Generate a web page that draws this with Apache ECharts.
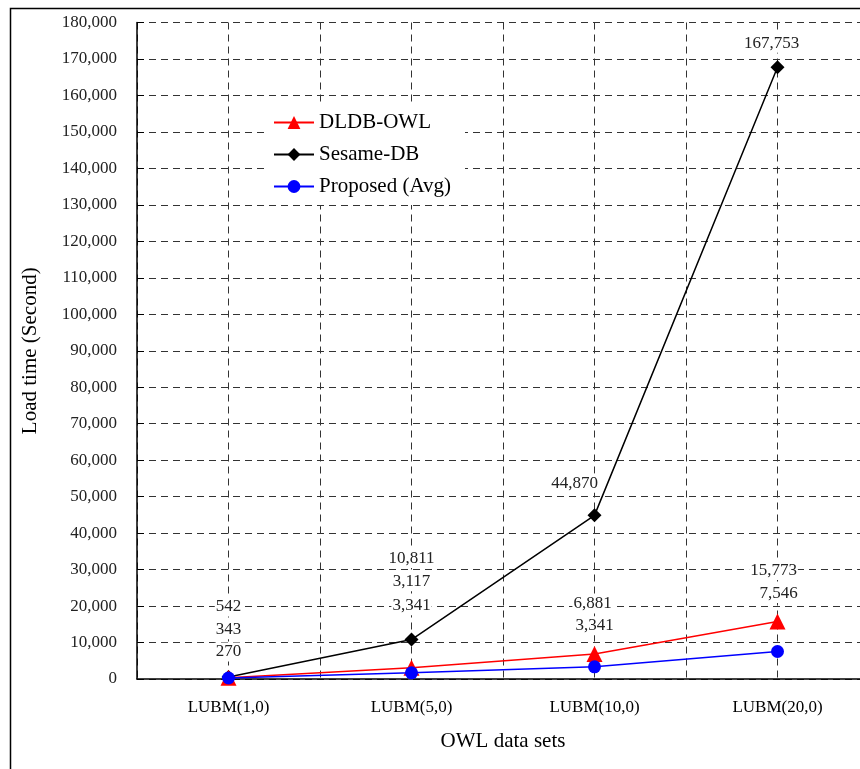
<!DOCTYPE html>
<html>
<head>
<meta charset="utf-8">
<script src="https://cdn.jsdelivr.net/npm/echarts@6/dist/echarts.min.js"></script>
<style>
html,body{margin:0;padding:0;overflow:hidden;background:#fff;}
#chart{width:880px;height:769px;}
</style>
</head>
<body>
<div id="chart"></div>
<script>
// ---- data ----
var categories = ['LUBM(1,0)', 'LUBM(5,0)', 'LUBM(10,0)', 'LUBM(20,0)'];
var seriesNames = ['DLDB-OWL', 'Sesame-DB', 'Proposed (Avg)'];
var dldbValues = [343, 3117, 6881, 15773];
var sesameValues = [542, 10811, 44870, 167753];
var proposedValues = [270, 1700, 3341, 7546];
// label texts as printed in the chart
var dldbLabels = ['343', '3,117', '6,881', '15,773'];
var sesameLabels = ['542', '10,811', '44,870', '167,753'];
var proposedLabels = ['270', '3,341', '3,341', '7,546'];
var yTickStep = 10000;
var yMax = 180000;

// ---- layout (label offsets relative to the point) ----
var dldbOffsets = [[0, -48], [0, -86], [-2, -50], [-4, -51]];
var sesameOffsets = [[0, -70], [0, -81], [-20, -32], [-6, -24]];
var proposedOffsets = [[0, -26], [0, -67], [0, -41], [1, -58]];

var FONT = '"Liberation Serif", "DejaVu Serif", serif';

function build(values, labels, offsets) {
  return values.map(function (v, i) {
    return {
      value: [2 * i + 1, v],
      label: {
        show: true,
        position: 'inside',
        offset: offsets[i],
        formatter: labels[i],
        fontFamily: FONT,
        fontSize: 17,
        color: '#222',
        backgroundColor: '#fff',
        padding: [1, 1, 1, 1]
      }
    };
  });
}

var chart = echarts.init(document.getElementById('chart'), null, {renderer: 'canvas'});
var option = {
  animation: false,
  backgroundColor: '#fff',
  graphic: [{
    type: 'rect',
    left: 8, top: 6,
    shape: {width: 1000, height: 900},
    style: {fill: 'none', stroke: '#000', lineWidth: 1.5},
    silent: true,
    z: 100
  }],
  grid: {left: 137, right: 11, top: 22.5, bottom: 90, containLabel: false},
  legend: {
    orient: 'vertical',
    left: 265, top: 104,
    padding: [8, 14, 8, 8],
    itemGap: 11,
    itemWidth: 40,
    itemHeight: 16,
    backgroundColor: '#fff',
    data: seriesNames,
    textStyle: {fontFamily: FONT, fontSize: 21, color: '#000'},
    z: 10
  },
  xAxis: {
    type: 'value',
    min: 0, max: 8, interval: 1,
    name: 'OWL data sets',
    nameLocation: 'middle',
    nameGap: 52,
    nameTextStyle: {fontFamily: FONT, fontSize: 21, color: '#000'},
    axisLine: {show: true, onZero: false, lineStyle: {color: '#000', width: 1.5}},
    axisTick: {show: false},
    axisLabel: {
      margin: 20,
      fontFamily: FONT, fontSize: 17, color: '#000',
      showMinLabel: true, showMaxLabel: true,
      formatter: function (v) {
        if (v % 2 === 1) return categories[(v - 1) / 2];
        return '';
      }
    },
    splitLine: {show: true, lineStyle: {color: '#333', type: [7, 5], width: 1}}
  },
  yAxis: {
    type: 'value',
    min: 0, max: yMax, interval: yTickStep,
    name: 'Load time (Second)',
    nameLocation: 'middle',
    nameGap: 96,
    nameRotate: 90,
    nameTextStyle: {fontFamily: FONT, fontSize: 21, color: '#000'},
    axisLine: {show: true, lineStyle: {color: '#000', width: 1.5}},
    axisTick: {show: true, inside: true, length: 7, lineStyle: {color: '#000'}},
    axisLabel: {
      margin: 20,
      fontFamily: FONT, fontSize: 17, color: '#222',
      formatter: function (v) { return v.toLocaleString('en-US'); }
    },
    splitLine: {show: true, lineStyle: {color: '#333', type: [7, 5], width: 1}}
  },
  series: [
    {
      name: seriesNames[0], type: 'line',
      data: build(dldbValues, dldbLabels, dldbOffsets),
      symbol: 'triangle', symbolSize: 16,
      lineStyle: {color: '#ff0000', width: 1.5},
      itemStyle: {color: '#ff0000'},
      z: 3
    },
    {
      name: seriesNames[1], type: 'line',
      data: build(sesameValues, sesameLabels, sesameOffsets),
      symbol: 'diamond', symbolSize: 14,
      lineStyle: {color: '#000000', width: 1.5},
      itemStyle: {color: '#000000'},
      z: 2
    },
    {
      name: seriesNames[2], type: 'line',
      data: build(proposedValues, proposedLabels, proposedOffsets),
      symbol: 'circle', symbolSize: 13,
      lineStyle: {color: '#0000ff', width: 1.5},
      itemStyle: {color: '#0000ff'},
      z: 4
    }
  ]
};
chart.setOption(option);
</script>
</body>
</html>
